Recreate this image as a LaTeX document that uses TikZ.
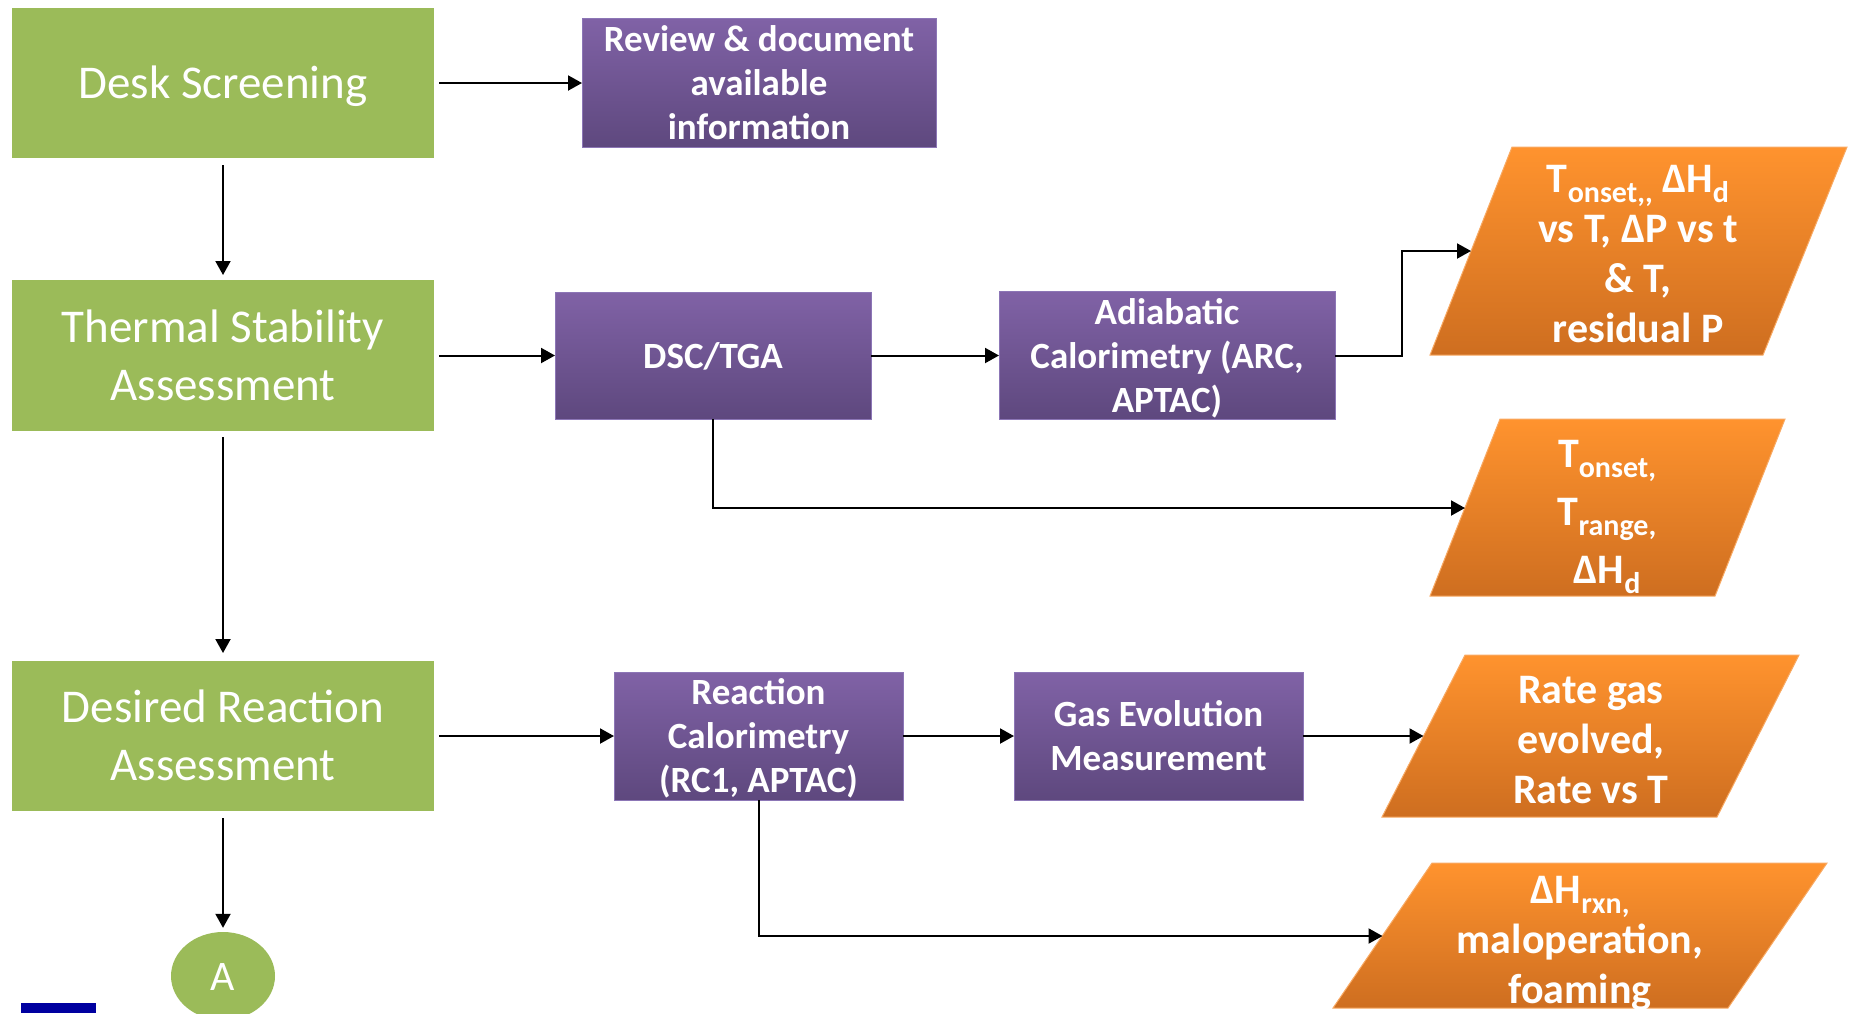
\documentclass[tikz,border=0pt]{standalone}
\usepackage{fontspec}
\setmainfont{Carlito}
\usetikzlibrary{arrows.meta,positioning,shapes.geometric}
\definecolor{stagegreen}{RGB}{155,187,89}
\definecolor{testtop}{RGB}{128,98,166}
\definecolor{testbot}{RGB}{94,72,126}
\definecolor{testedge}{RGB}{140,118,182}
\definecolor{outtop}{RGB}{255,147,46}
\definecolor{outbot}{RGB}{206,110,32}
\definecolor{outedge}{RGB}{248,170,100}
\definecolor{logoblue}{RGB}{0,0,160}
\newcommand{\lowsub}[1]{\raisebox{-10pt}{\fontsize{30}{30}\selectfont #1}}
\newcommand{\pptup}{\rule{0pt}{0.87em}}
\newcommand{\pptdown}{\rule[-0.19em]{0pt}{0.19em}}
\tikzset{
  stage/.style={fill=stagegreen, text=white, minimum width=422pt, minimum height=150pt,
    inner sep=0pt, outer sep=0pt, align=center, font=\fontsize{47}{58}\selectfont},
  test/.style={top color=testtop, bottom color=testbot, draw=testedge, line width=1pt,
    text=white, inner sep=0pt, outer sep=0pt, align=center,
    font=\bfseries\fontsize{37}{44}\selectfont},
  outshape/.style={top color=outtop, bottom color=outbot, draw=outedge, line width=1pt},
  outtext/.style={text=white, align=center, inner sep=0pt,
    font=\bfseries\fontsize{42}{50}\selectfont},
  link/.style={->, line width=2pt},
}
\begin{document}
\begin{tikzpicture}[x=1pt, y=-1pt, >={Triangle[length=14pt,width=15pt]}]
  \useasboundingbox (0,0) rectangle (1851,1013);
  \node[stage] (desk) at (223,83) {\pptup Desk Screening\pptdown};
  \node[stage, minimum height=151pt] (thermal) at (223,355.5) {\pptup Thermal Stability\\Assessment\pptdown};
  \node[stage] (desired) at (223,736) {\pptup Desired Reaction\\Assessment\pptdown};
  \node[ellipse, fill=stagegreen, text=white, minimum width=104pt, minimum height=88pt,
    inner sep=0pt, font=\fontsize{42}{42}\selectfont] (conn) at (223,976) {\pptup A\pptdown};
  \fill[logoblue] (21,1003) rectangle (96,1013);

  \node[test, minimum width=354pt, minimum height=129pt] (review) at (759,83) {\pptup Review \& document\\available\\information\pptdown};
  \node[test, minimum width=316pt, minimum height=127pt] (dsc) at (713,355.5) {\pptup DSC/TGA\pptdown};
  \node[test, minimum width=336pt, minimum height=127pt] (adia) at (1167,355.5) {\pptup Adiabatic\\Calorimetry (ARC,\\APTAC)\pptdown};
  \node[test, minimum width=289pt, minimum height=128pt] (rc) at (758.5,736) {\pptup Reaction\\Calorimetry\\(RC1, APTAC)\pptdown};
  \node[test, minimum width=289pt, minimum height=128pt] (gas) at (1158.5,736) {\pptup Gas Evolution\\Measurement\pptdown};

  \shade[outshape] (1512,147) -- (1847,147) -- (1763,355) -- (1430,355) -- cycle;
  \node[outtext] (adiaout) at (1638,253) {\pptup T\lowsub{onset,\kern0pt,} ΔH\lowsub{d}\\vs T, ΔP vs t\\\& T,\\residual P\pptdown};
  \coordinate (adiaoutw) at (1471,251);
  \shade[outshape] (1500,419) -- (1785,419) -- (1715,596) -- (1430,596) -- cycle;
  \node[outtext, font=\bfseries\fontsize{42}{58}\selectfont] (dscout) at (1607,512) {\pptup T\lowsub{onset,}\\T\lowsub{range,}\\ΔH\lowsub{d}\pptdown};
  \coordinate (dscoutw) at (1465,508);
  \shade[outshape] (1465,655) -- (1799,655) -- (1717,817) -- (1382,817) -- cycle;
  \node[outtext] (gasout) at (1591,739) {\pptup Rate gas\\evolved,\\Rate vs T\pptdown};
  \coordinate (gasoutw) at (1423.5,736);
  \shade[outshape] (1432,863) -- (1827,863) -- (1728,1008) -- (1333,1008) -- cycle;
  \node[outtext] (rcout) at (1580,939) {\pptup ΔH\lowsub{rxn,}\\maloperation,\\foaming\pptdown};
  \coordinate (rcoutw) at (1382.5,936);

  \draw[link, shorten <=5pt] (desk) -- (review);
  \draw[link, shorten <=7pt, shorten >=5pt] (desk) -- (thermal);
  \draw[link, shorten <=5pt] (thermal) -- (dsc);
  \draw[link] (dsc) -- (adia);
  \draw[link] (adia.east) -- ++(67,0) |- (adiaoutw);
  \draw[link] (dsc.south) |- (dscoutw);
  \draw[link, shorten <=6pt, shorten >=8pt] (thermal) -- (desired);
  \draw[link, shorten <=5pt] (desired) -- (rc);
  \draw[link] (rc) -- (gas);
  \draw[link] (gas) -- (gasoutw);
  \draw[link] (rc.south) |- (rcoutw);
  \draw[link, shorten <=7pt, shorten >=4pt] (desired) -- (conn);
\end{tikzpicture}
\end{document}
